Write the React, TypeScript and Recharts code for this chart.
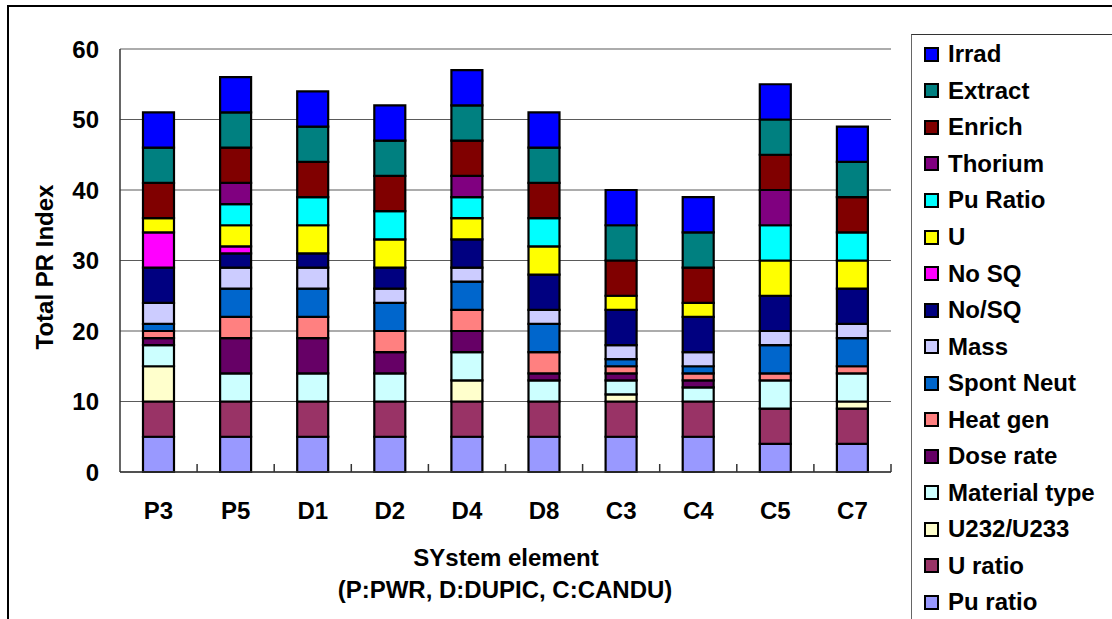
import React from 'react';
import { BarChart, Bar, XAxis, YAxis, CartesianGrid } from 'recharts';

// categories (P:PWR, D:DUPIC, C:CANDU)
const systems = ['P3', 'P5', 'D1', 'D2', 'D4', 'D8', 'C3', 'C4', 'C5', 'C7'];

// series values, bottom of the stack first
const puRatio = [5, 5, 5, 5, 5, 5, 5, 5, 4, 4];
const uRatio = [5, 5, 5, 5, 5, 5, 5, 5, 5, 5];
const u232u233 = [5, 0, 0, 0, 3, 0, 1, 0, 0, 1];
const materialType = [3, 4, 4, 4, 4, 3, 2, 2, 4, 4];
const doseRate = [1, 5, 5, 3, 3, 1, 1, 1, 0, 0];
const heatGen = [1, 3, 3, 3, 3, 3, 1, 1, 1, 1];
const spontNeut = [1, 4, 4, 4, 4, 4, 1, 1, 4, 4];
const mass = [3, 3, 3, 2, 2, 2, 2, 2, 2, 2];
const noSlashSq = [5, 2, 2, 3, 4, 5, 5, 5, 5, 5];
const noSq = [5, 1, 0, 0, 0, 0, 0, 0, 0, 0];
const uVal = [2, 3, 4, 4, 3, 4, 2, 2, 5, 4];
const puRatioHigh = [0, 3, 4, 4, 3, 4, 0, 0, 5, 4];
const thorium = [0, 3, 0, 0, 3, 0, 0, 0, 5, 0];
const enrich = [5, 5, 5, 5, 5, 5, 5, 5, 5, 5];
const extract = [5, 5, 5, 5, 5, 5, 5, 5, 5, 5];
const irrad = [5, 5, 5, 5, 5, 5, 5, 5, 5, 5];

const yTicks = [0, 10, 20, 30, 40, 50, 60];

const series = [
  { key: 'puRatio', name: 'Pu ratio', color: '#9999FF', values: puRatio },
  { key: 'uRatio', name: 'U ratio', color: '#993366', values: uRatio },
  { key: 'u232', name: 'U232/U233', color: '#FFFFCC', values: u232u233 },
  { key: 'material', name: 'Material type', color: '#CCFFFF', values: materialType },
  { key: 'dose', name: 'Dose rate', color: '#660066', values: doseRate },
  { key: 'heat', name: 'Heat gen', color: '#FF8080', values: heatGen },
  { key: 'spont', name: 'Spont Neut', color: '#0066CC', values: spontNeut },
  { key: 'mass', name: 'Mass', color: '#CCCCFF', values: mass },
  { key: 'noSlashSq', name: 'No/SQ', color: '#000080', values: noSlashSq },
  { key: 'noSq', name: 'No SQ', color: '#FF00FF', values: noSq },
  { key: 'u', name: 'U', color: '#FFFF00', values: uVal },
  { key: 'puRatioHigh', name: 'Pu Ratio', color: '#00FFFF', values: puRatioHigh },
  { key: 'thorium', name: 'Thorium', color: '#800080', values: thorium },
  { key: 'enrich', name: 'Enrich', color: '#800000', values: enrich },
  { key: 'extract', name: 'Extract', color: '#008080', values: extract },
  { key: 'irrad', name: 'Irrad', color: '#0000FF', values: irrad },
];

const FONT = '"Liberation Sans", Arial, Helvetica, sans-serif';
const PLOT_LEFT = 120;
const PLOT_RIGHT = 891;
const BAND = (PLOT_RIGHT - PLOT_LEFT) / systems.length;

const data = systems.map((name, i) => {
  const row: Record<string, number | string> = { name };
  series.forEach(s => { row[s.key] = s.values[i]; });
  return row;
});

function XTick(props: any) {
  const { x, y, payload } = props;
  return (
    <g>
      <line x1={x + BAND / 2} x2={x + BAND / 2} y1={y} y2={y - 8} stroke="#333" strokeWidth={1.5} />
      <text x={x} y={y + 47} textAnchor="middle" fontFamily={FONT} fontWeight="bold" fontSize={24} fill="#000">
        {payload.value}
      </text>
    </g>
  );
}

export default function App() {
  return (
    <div style={{ position: 'absolute', left: 0, top: 0, width: 1112, height: 619, overflow: 'hidden', background: '#fff' }}>
      <BarChart
        width={1112}
        height={619}
        data={data}
        margin={{ top: 49, right: 221, bottom: 0, left: 0 }}
        barSize={31}
      >
        <CartesianGrid vertical={false} stroke="#5a5a5a" strokeWidth={1.2} />
        <XAxis
          dataKey="name"
          height={147}
          tickSize={0}
          tickMargin={0}
          tickLine={false}
          axisLine={{ stroke: '#333', strokeWidth: 1.5 }}
          tick={<XTick />}
          interval={0}
          label={{
            content: () => (
              <g fontFamily={FONT} fontWeight="bold" fontSize={24} fill="#000">
                <text x={506} y={566} textAnchor="middle">SYstem element</text>
                <text x={505} y={598} textAnchor="middle">(P:PWR, D:DUPIC, C:CANDU)</text>
              </g>
            ),
          }}
        />
        <YAxis
          width={120}
          domain={[0, 60]}
          ticks={yTicks}
          tickSize={0}
          tickMargin={21}
          tickLine={false}
          axisLine={{ stroke: '#333', strokeWidth: 1.5 }}
          tick={{ fontFamily: FONT, fontWeight: 'bold', fontSize: 24, fill: '#000' }}
          label={{
            content: () => (
              <text
                x={44}
                y={267}
                transform="rotate(-90 44 267)"
                textAnchor="middle"
                dominantBaseline="central"
                fontFamily={FONT}
                fontWeight="bold"
                fontSize={24}
                fill="#000"
              >
                Total PR Index
              </text>
            ),
          }}
        />
        <YAxis
          yAxisId="right"
          orientation="right"
          width={0}
          tick={false}
          tickLine={false}
          axisLine={{ stroke: '#8c8c8c', strokeWidth: 2 }}
        />
        {series.map(s => (
          <Bar
            key={s.key}
            dataKey={s.key}
            name={s.name}
            stackId="pr"
            fill={s.color}
            stroke="#000"
            strokeWidth={2.2}
            isAnimationActive={false}
          />
        ))}
      </BarChart>

      {/* outer frame */}
      <div style={{ position: 'absolute', left: 7, top: 5, width: 2000, height: 2000, borderTop: '2.5px solid #000', borderLeft: '2.5px solid #000', pointerEvents: 'none' }} />

      {/* legend */}
      <div style={{ position: 'absolute', left: 911, top: 34, width: 400, height: 700, borderTop: '1px solid #333', borderLeft: '1px solid #666', fontFamily: FONT, fontWeight: 'bold', fontSize: 24, color: '#000' }}>
        <div style={{ paddingTop: 1 }}>
          {[...series].reverse().map(s => (
            <div key={s.key} style={{ height: 36.55, display: 'flex', alignItems: 'center', marginLeft: 12 }}>
              <span style={{ width: 15, height: 15, boxSizing: 'border-box', border: '2px solid #000', background: s.color, marginRight: 9, flex: 'none' }} />
              <span style={{ lineHeight: 1, whiteSpace: 'nowrap' }}>{s.name}</span>
            </div>
          ))}
        </div>
      </div>
    </div>
  );
}
